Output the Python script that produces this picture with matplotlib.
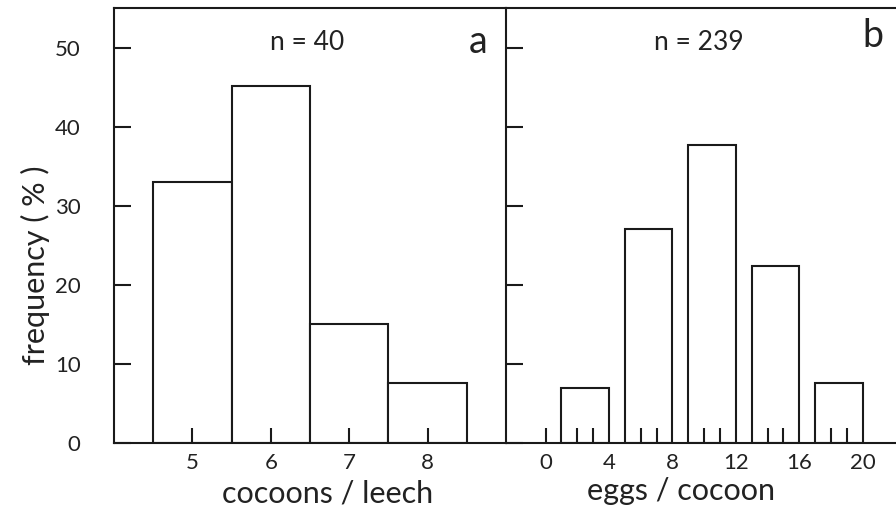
import matplotlib.pyplot as plt
import numpy as np

plt.rcParams['font.family'] = ['Lato', 'DejaVu Sans']

# panel a: cocoons per leech
cocoons = [5, 6, 7, 8]
cocoon_freq = [33.0, 45.2, 15.1, 7.6]

# panel b: eggs per cocoon, classes 1-3, 5-7, 9-11, 13-15, 17-19
egg_left = [1, 5, 9, 13, 17]
egg_right = [4, 8, 12, 16, 20]
egg_freq = [6.9, 27.1, 37.7, 22.4, 7.55]
egg_ticks = [0, 2, 3, 6, 7, 10, 11, 14, 15, 18, 19]
egg_labels = [0, 4, 8, 12, 16, 20]

y_ticks = [0, 10, 20, 30, 40, 50]

fig = plt.figure(figsize=(8.96, 5.15), dpi=100)
W, H = 896, 515
axa = fig.add_axes([114 / W, (H - 443) / H, (506 - 114) / W, (443 - 8) / H])
axb = fig.add_axes([506 / W, (H - 443) / H, (896 - 506) / W, (443 - 8) / H])

ink = '#1a1a1a'
txt = '#222222'
lw = 1.5
axa.bar(cocoons, cocoon_freq, width=1.0, facecolor='white', edgecolor=ink, linewidth=lw)
widths = np.array(egg_right) - np.array(egg_left)
axb.bar(egg_left, egg_freq, width=widths, align='edge', facecolor='white',
        edgecolor=ink, linewidth=lw)

for ax in (axa, axb):
    ax.set_ylim(0, 55)
    for s in ax.spines.values():
        s.set_linewidth(lw)
        s.set_color(ink)
    ax.set_yticks(y_ticks)
    ax.tick_params(axis='both', which='both', direction='in', width=lw, color=ink,
                   labelsize=16, labelcolor=txt)
    ax.tick_params(axis='y', length=12, pad=24)

axa.spines['right'].set_visible(False)
axb.spines['right'].set_visible(False)

axa.set_xlim(4, 9)
axa.set_xticks(cocoons)
axa.tick_params(axis='x', length=11, pad=7)
axa.set_yticklabels([str(v) for v in y_ticks], fontsize=16)

axb.set_xlim(-2.5, 22.1)
axb.xaxis.remove_overlapping_locs = False
axb.set_xticks(egg_labels)
axb.set_xticklabels([str(v) for v in egg_labels], fontsize=16)
axb.tick_params(axis='x', which='major', length=0, pad=7)
axb.set_xticks(egg_ticks, minor=True)
axb.tick_params(axis='x', which='minor', direction='in', length=11, width=lw, color=ink)
axb.set_yticklabels([])

fig.text(307 / W, 1 - 43 / H, 'n = 40', ha='center', va='center', fontsize=19, color=txt)
fig.text(478 / W, 1 - 42 / H, 'a', ha='center', va='center', fontsize=27, color=txt)
fig.text(699 / W, 1 - 43 / H, 'n = 239', ha='center', va='center', fontsize=19, color=txt)
fig.text(873 / W, 1 - 36 / H, 'b', ha='center', va='center', fontsize=27, color=txt)

fig.text(328 / W, 1 - 502 / H, 'cocoons / leech', ha='center', va='baseline', fontsize=22, color=txt)
fig.text(681 / W, 1 - 500 / H, 'eggs / cocoon', ha='center', va='baseline', fontsize=22, color=txt)
fig.text(35 / W, 1 - 265 / H, 'frequency ( % )', ha='center', va='center', rotation=90,
         fontsize=22, color=txt)

fig.savefig('out.png', dpi=100)
